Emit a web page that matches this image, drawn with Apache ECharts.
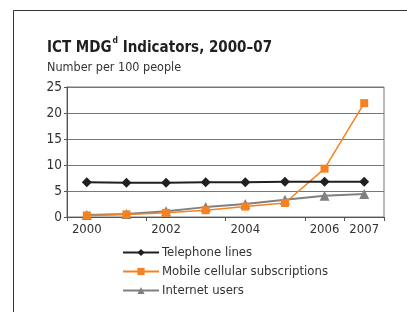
<!DOCTYPE html>
<html>
<head>
<meta charset="utf-8">
<script src="https://cdn.jsdelivr.net/npm/echarts@6/dist/echarts.min.js"></script>
<style>
  html, body { margin: 0; padding: 0; background: #fff; }
  #chart { width: 407px; height: 312px; }
</style>
</head>
<body>
<div id="chart"></div>
<script>
const years = ['2000', '2001', '2002', '2003', '2004', '2005', '2006', '2007'];
const shownYears = ['2000', '2002', '2004', '2006', '2007'];
const telephone = [6.7, 6.6, 6.6, 6.7, 6.7, 6.8, 6.8, 6.8];
const mobile = [0.3, 0.5, 0.8, 1.3, 2.0, 2.7, 9.3, 21.9];
const internet = [0.4, 0.6, 1.1, 1.9, 2.5, 3.3, 4.1, 4.4];

const font = '"Liberation Sans Narrow", "DejaVu Sans Condensed", sans-serif';

const chart = echarts.init(document.getElementById('chart'));

// Chart configuration
const option = {
  animation: false,
  textStyle: { fontFamily: font },
  title: {
    text: '{b|ICT MDG}{s|d}{b| Indicators, 2000–07}',
    subtext: 'Number per 100 people',
    left: 42,
    top: 31,
    itemGap: 5,
    textStyle: {
      rich: {
        b: { fontFamily: font, fontWeight: 'bold', fontSize: 15, color: '#231f20', verticalAlign: 'bottom', lineHeight: 20 },
        s: { fontFamily: font, fontWeight: 'bold', fontSize: 8.5, color: '#231f20', verticalAlign: 'top', padding: [0, 0, 7, 1] }
      }
    },
    subtextStyle: { fontFamily: font, fontSize: 12.5, color: '#333' }
  },
  graphic: [
    {
      type: 'rect',
      shape: { x: 13.5, y: 10.5, width: 600, height: 500 },
      style: { fill: 'none', stroke: '#333', lineWidth: 1 },
      silent: true
    }
  ],
  legend: {
    orient: 'vertical',
    left: 117,
    top: 241,
    itemWidth: 36,
    itemHeight: 9,
    itemGap: 6,
    textStyle: { fontFamily: font, fontSize: 13, color: '#333', padding: [0, 0, 0, -2] },
    data: ['Telephone lines', 'Mobile cellular subscriptions', 'Internet users']
  },
  grid: {
    left: 67,
    right: 23,
    top: 87,
    bottom: 95,
    show: true,
    borderColor: '#777',
    borderWidth: 1
  },
  xAxis: {
    type: 'category',
    data: years,
    boundaryGap: true,
    axisLine: { lineStyle: { color: '#555' } },
    axisTick: { show: true, length: 4, lineStyle: { color: '#555' } },
    axisLabel: {
      interval: (i, v) => shownYears.includes(v),
      fontFamily: font,
      fontSize: 13,
      color: '#333',
      margin: 6
    },
    splitLine: { show: false }
  },
  yAxis: {
    type: 'value',
    min: 0,
    max: 25,
    interval: 5,
    axisLine: { show: true, lineStyle: { color: '#555' } },
    axisTick: { show: true, length: 3, lineStyle: { color: '#555' } },
    axisLabel: { fontFamily: font, fontSize: 13.5, color: '#333', margin: 5 },
    splitLine: { lineStyle: { color: '#777', width: 1 } }
  },
  series: [
    {
      name: 'Telephone lines',
      type: 'line',
      data: telephone,
      symbol: 'diamond',
      symbolSize: 10,
      lineStyle: { color: '#231f20', width: 2 },
      itemStyle: { color: '#231f20' },
      z: 3
    },
    {
      name: 'Mobile cellular subscriptions',
      type: 'line',
      data: mobile,
      symbol: 'rect',
      symbolSize: 8,
      lineStyle: { color: '#f58220', width: 1.5 },
      itemStyle: { color: '#f58220' },
      z: 2
    },
    {
      name: 'Internet users',
      type: 'line',
      data: internet,
      symbol: 'triangle',
      symbolSize: 10,
      lineStyle: { color: '#808080', width: 2 },
      itemStyle: { color: '#808080' },
      z: 1
    }
  ]
};

chart.setOption(option);
</script>
</body>
</html>
